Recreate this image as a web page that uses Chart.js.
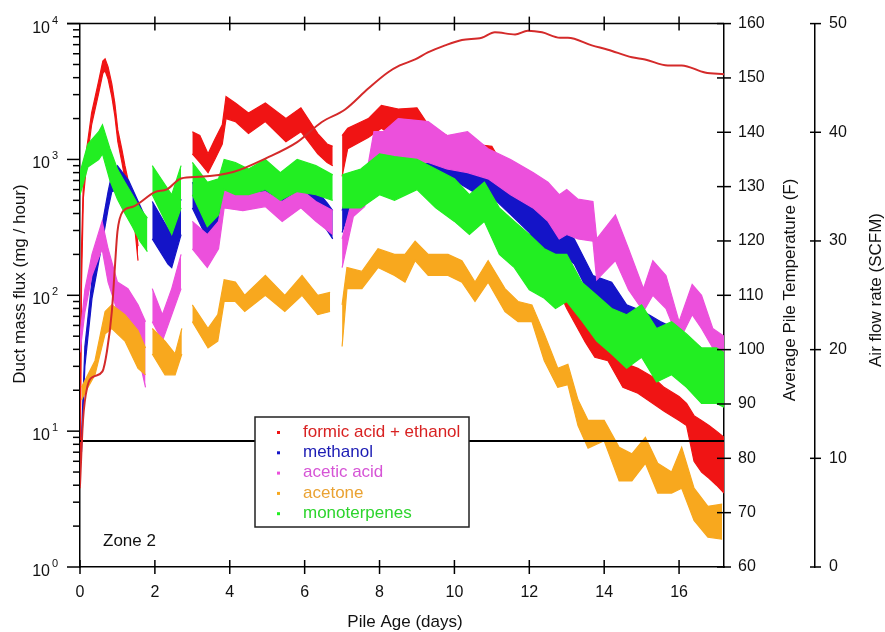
<!DOCTYPE html>
<html>
<head>
<meta charset="utf-8">
<script src="https://cdn.jsdelivr.net/npm/chart.js@4.4.1/dist/chart.umd.min.js"></script>
<style>
  html, body { margin: 0; padding: 0; background: #fff; }
  #wrap { width: 885px; height: 632px; }
</style>
</head>
<body>
<div id="wrap"><canvas id="zone2"></canvas></div>
<script>
// --- data (pile age in days, flux in mg/hour) ---
// each species: sample days with the low / high edge of its scatter band (null = no data)
const formicDays = [0, 0.04, 0.09, 0.18, 0.31, 0.49, 0.61, 0.67, 0.75, 0.85, 0.93, 1.01, 1.12, 1.2, 1.34, 1.47, 1.55, 1.6, 3.0, 3.2, 3.42, 3.6, 3.8, 3.9, 4.15, 4.5, 4.95, 5.5, 5.9, 6.35, 6.6, 6.75, 6.85, 7.0, 7.15, 7.7, 8.05, 8.5, 9.0, 9.3, 9.8, 10.1, 10.5, 11.0, 11.35, 12.0, 12.5, 13.0, 13.5, 13.75, 14.1, 14.5, 14.9, 15.3, 15.6, 16.0, 16.2, 16.4, 16.6, 16.8, 17.0, 17.2];
const formicLo = [3.8, 120, 520, 950, 1800, 3000, 4300, 4500, 3900, 2900, 2100, 1350, 950, 720, 480, 300, 180, null, 1100, 950, 800, 1000, 1300, 2000, 1900, 1550, 1900, 1350, 1600, 1100, 950, 900, null, 750, 1200, 1450, 1700, 1400, 1600, 1300, 1100, 1100, 900, 900, 600, 550, 160, 80, 45, 35, 33, 21, 19, 16, 14, 12, 11, 6, 5, 4.5, 4, 3.5];
const formicHi = [5, 220, 700, 1200, 2200, 3700, 5300, 5500, 4800, 3600, 2600, 1650, 1180, 900, 600, 380, 230, null, 1600, 1500, 1100, 1400, 1800, 2900, 2600, 2200, 2600, 2000, 2400, 1550, 1300, 1250, null, 1500, 1700, 2000, 2500, 2350, 2400, 1800, 1500, 1500, 1300, 1250, 850, 750, 260, 150, 80, 55, 50, 32, 29, 25, 21, 18, 16, 13, 12, 11, 10, 9];

const methanolDays = [0.04, 0.13, 0.32, 0.59, 0.75, 0.85, 1.0, 1.3, 1.7, 1.8, 1.93, 2.35, 2.45, 2.7, 2.78, 3.0, 3.4, 3.7, 3.85, 4.2, 4.5, 5.0, 5.5, 5.9, 6.3, 6.6, 6.75, 6.85, 7.0, 7.3, 7.7, 8.0, 8.4, 9.0, 9.3, 10.0, 10.5, 11.1, 11.6, 12.0, 12.4, 12.8, 13.0, 13.2, 13.7, 14.2, 14.6, 15.05, 15.5, 15.9, 16.35, 16.8, 17.2];
const methanolLo = [7, 30, 95, 240, 430, 580, 600, 480, 250, null, 260, 170, 160, 280, null, 440, 260, 290, 510, 500, 520, 500, 430, 500, 400, 300, 260, null, 290, 510, 600, 720, 800, 900, 850, 700, 580, 500, 370, 290, 200, 180, 190, 170, 90, 72, 57, 52, 46, 41, 33, 23, 16];
const methanolHi = [9, 42, 130, 330, 580, 780, 900, 700, 400, null, 490, 310, 300, 510, null, 680, 440, 480, 720, 700, 720, 700, 650, 720, 600, 480, 420, null, 420, 800, 850, 1200, 1300, 1350, 1250, 1070, 900, 850, 580, 490, 370, 310, 290, 260, 140, 125, 85, 76, 64, 57, 46, 37, 26];

const aceticDays = [0, 0.13, 0.32, 0.59, 0.75, 1.0, 1.28, 1.55, 1.75, 1.82, 1.93, 2.2, 2.45, 2.7, 2.78, 3.0, 3.4, 3.7, 3.85, 4.35, 4.95, 5.4, 5.9, 6.3, 6.75, 6.85, 7.0, 7.3, 7.6, 7.85, 8.1, 8.5, 9.3, 9.8, 10.35, 10.9, 11.5, 12.1, 12.5, 12.8, 13.0, 13.3, 13.7, 13.8, 14.3, 14.65, 15.05, 15.3, 15.65, 16.0, 16.35, 16.6, 16.9, 17.2];
const aceticLo = [38, 75, 140, 220, 125, 76, 64, 37, 21, null, 64, 46, 72, 112, null, 220, 160, 220, 440, 420, 450, 350, 440, 350, 280, null, 160, 380, 450, 700, 800, 950, 950, 850, 800, 720, 550, 440, 350, 260, 280, 260, 250, 130, 180, 110, 76, 100, 80, 46, 72, 57, 41, 35];
const aceticHi = [50, 110, 200, 350, 220, 125, 112, 85, 64, null, 112, 72, 112, 200, null, 350, 280, 350, 600, 550, 580, 490, 600, 490, 420, null, 260, 550, 650, 1600, 1600, 2000, 1900, 1500, 1600, 1200, 1000, 800, 680, 550, 600, 510, 490, 260, 390, 220, 112, 180, 140, 64, 120, 100, 57, 50];

const acetoneDays = [0.04, 0.21, 0.4, 0.67, 0.85, 1.2, 1.55, 1.75, 1.82, 1.93, 2.27, 2.54, 2.72, 2.78, 3.0, 3.42, 3.68, 3.85, 4.15, 4.4, 4.95, 5.47, 5.93, 6.35, 6.68, 6.85, 7.0, 7.13, 7.53, 7.96, 8.4, 8.68, 8.95, 9.3, 9.83, 10.2, 10.55, 10.9, 11.35, 11.7, 12.07, 12.4, 12.76, 13.03, 13.3, 13.57, 14.0, 14.4, 14.74, 15.1, 15.43, 15.8, 16.07, 16.4, 16.77, 17.15];
const acetoneLo = [17, 21, 26, 52, 57, 46, 29, 26, null, 37, 26, 26, 37, null, 64, 41, 46, 90, 90, 76, 100, 76, 100, 72, 76, null, 42, 112, 112, 160, 140, 125, 180, 140, 140, 125, 90, 125, 76, 64, 64, 33, 21, 22, 11, 7.5, 8.5, 4.3, 4.3, 5.8, 3.5, 3.5, 3.8, 2.2, 1.66, 1.6];
const acetoneHi = [21, 26, 33, 76, 85, 72, 55, 41, null, 57, 46, 37, 57, null, 85, 57, 72, 130, 125, 100, 140, 100, 140, 100, 105, null, 85, 160, 150, 220, 200, 200, 250, 200, 200, 180, 125, 180, 112, 90, 85, 52, 29, 31, 17, 12, 12, 7.6, 6.8, 9, 5.8, 5, 7.6, 3.8, 2.8, 2.9];

const terpDays = [0, 0.21, 0.5, 0.6, 0.8, 1.0, 1.2, 1.4, 1.6, 1.8, 1.85, 1.93, 2.45, 2.7, 2.78, 3.0, 3.4, 3.7, 3.85, 4.15, 4.5, 4.95, 5.35, 5.8, 6.3, 6.75, 6.85, 7.0, 7.5, 8.0, 8.4, 9.0, 9.5, 10.0, 10.4, 10.8, 11.2, 11.6, 12.0, 12.4, 12.7, 13.0, 13.4, 13.8, 14.2, 14.6, 15.0, 15.4, 15.8, 16.2, 16.6, 17.0, 17.2];
const terpLo = [550, 880, 1000, 1100, 700, 510, 400, 320, 250, 210, null, 550, 280, 440, null, 550, 320, 390, 600, 550, 550, 600, 500, 580, 550, 500, null, 440, 440, 550, 500, 600, 440, 350, 280, 350, 200, 160, 110, 95, 80, 90, 65, 46, 37, 29, 35, 23, 26, 21, 16, 16, 15];
const terpHi = [800, 1300, 1600, 1800, 1200, 850, 680, 550, 440, 370, null, 900, 550, 900, null, 950, 680, 720, 1000, 950, 850, 1000, 800, 1000, 900, 770, null, 770, 850, 1100, 1050, 1000, 850, 720, 550, 680, 440, 350, 280, 220, 200, 200, 125, 100, 80, 72, 85, 57, 64, 52, 41, 41, 38];

// average pile temperature (F)
const tempDays = [0, 0.08, 0.2, 0.35, 0.6, 0.72, 0.85, 0.93, 1.0, 1.14, 1.41, 2.0, 2.32, 2.7, 3.2, 4.09, 4.99, 5.8, 6.46, 7.08, 7.69, 8.22, 8.54, 8.95, 9.29, 9.75, 10.2, 10.73, 11.08, 11.62, 11.96, 12.34, 12.82, 13.03, 13.67, 14.1, 14.74, 15.09, 15.7, 16.07, 16.69, 17.2];
const tempF = [75, 87, 93.3, 95, 96, 99.7, 107, 115, 121.7, 125.4, 126.3, 129, 129.5, 131.5, 131.8, 132.7, 135.3, 138.2, 141.9, 144.2, 148, 151, 152.3, 153.4, 154.7, 156, 157, 157.4, 158.4, 158, 158.7, 158.4, 157.4, 157.4, 156, 155.2, 153.8, 153.4, 152.3, 152.3, 151.0, 150.7];

// air flow rate (SCFM)
const airDays = [0, 17.2];
const airSCFM = [11.6, 11.6];

const xTicks = [0, 2, 4, 6, 8, 10, 12, 14, 16];
const decades = [1, 10, 100, 1000, 10000];

const FONT = '"Liberation Sans", Arial, Helvetica, sans-serif';

const species = [
  { name: "formic acid + ethanol", color: "#f01414", text: "#d82222", days: formicDays, lo: formicLo, hi: formicHi },
  { name: "methanol", color: "#1414c8", text: "#1c1cb4", days: methanolDays, lo: methanolLo, hi: methanolHi },
  { name: "acetic acid", color: "#ec50dc", text: "#d654d6", days: aceticDays, lo: aceticLo, hi: aceticHi },
  { name: "acetone", color: "#f8a81e", text: "#eaa232", days: acetoneDays, lo: acetoneLo, hi: acetoneHi },
  { name: "monoterpenes", color: "#22ee22", text: "#2cd42c", days: terpDays, lo: terpLo, hi: terpHi }
];

function pts(xs, ys) {
  return xs.map((x, i) => ({ x: x, y: ys[i] }));
}

// low edge + high edge filled between them gives the dense scatter band
let datasets = [];
species.forEach((s, i) => {
  const ord = 5 - i;   // formic at the bottom, monoterpenes on top
  datasets.push({
    label: s.name + " low", data: pts(s.days, s.lo), yAxisID: "y",
    borderColor: s.color, borderWidth: 1.2, pointRadius: 0, fill: false, order: ord, spanGaps: false
  });
  datasets.push({
    label: s.name, data: pts(s.days, s.hi), yAxisID: "y",
    borderColor: s.color, borderWidth: 1.2, backgroundColor: s.color, pointRadius: 0, fill: "-1", order: ord, spanGaps: false
  });
});
datasets.push({
  label: "Average Pile Temperature", data: pts(tempDays, tempF), yAxisID: "yT",
  borderColor: "#d42a2a", borderWidth: 2, pointRadius: 0, fill: false, order: 0, cubicInterpolationMode: "monotone"
});
datasets.push({
  label: "Air flow rate", data: pts(airDays, airSCFM), yAxisID: "yA",
  borderColor: "#000", borderWidth: 2, pointRadius: 0, fill: false, order: 0
});

function line(ctx, x1, y1, x2, y2) {
  ctx.beginPath(); ctx.moveTo(x1, y1); ctx.lineTo(x2, y2); ctx.stroke();
}

// tick marks, log labels, axis titles, legend box, "Zone 2"
const decor = {
  id: "decor",
  afterDraw(chart) {
    const { ctx, chartArea: a, scales } = chart;
    ctx.save();
    ctx.strokeStyle = "#000";
    ctx.lineWidth = 1.5;
    line(ctx, a.left - 13, a.top, a.right, a.top);

    xTicks.forEach(d => {
      const px = scales.x.getPixelForValue(d);
      line(ctx, px, a.bottom - 7, px, a.bottom + 7);
      if (d > 0) line(ctx, px, a.top - 7, px, a.top + 7);
    });

    // left log axis
    ctx.fillStyle = "#111";
    decades.forEach((v, k) => {
      const py = scales.y.getPixelForValue(v);
      line(ctx, a.left - 13, py, a.left, py);
      ctx.font = "16px " + FONT;
      ctx.textAlign = "right"; ctx.textBaseline = "alphabetic";
      ctx.fillText("10", 50, py + 9);
      ctx.font = "11px " + FONT;
      ctx.textAlign = "left";
      ctx.fillText(String(k), 52, py);
      if (v < 10000) {
        for (let m = 2; m <= 9; m++) {
          const my = scales.y.getPixelForValue(v * m);
          line(ctx, a.left - 7, my, a.left, my);
        }
      }
    });

    // right axes crossing ticks
    scales.yT.ticks.forEach(t => {
      const py = scales.yT.getPixelForValue(t.value);
      line(ctx, scales.yT.left - 7, py, scales.yT.left + 7, py);
    });
    scales.yA.ticks.forEach(t => {
      const py = scales.yA.getPixelForValue(t.value);
      line(ctx, scales.yA.left - 5, py, scales.yA.left + 6, py);
    });

    // axis titles
    ctx.fillStyle = "#111";
    ctx.font = "17px " + FONT;
    ctx.textAlign = "center"; ctx.textBaseline = "middle";
    ctx.fillText("Pile Age (days)", (a.left + a.right) / 2 + 3, 622);
    const vtitle = (txt, x, y) => {
      ctx.save(); ctx.translate(x, y); ctx.rotate(-Math.PI / 2);
      ctx.fillText(txt, 0, 0); ctx.restore();
    };
    vtitle("Duct mass flux (mg / hour)", 20, 284);
    vtitle("Average Pile Temperature (F)", 790, 290);
    vtitle("Air flow rate (SCFM)", 876, 290);

    ctx.textAlign = "left"; ctx.textBaseline = "alphabetic";
    ctx.fillText("Zone 2", 103, 546);

    // legend
    ctx.fillStyle = "#fff";
    ctx.fillRect(255, 417, 214, 110);
    ctx.strokeStyle = "#222";
    ctx.strokeRect(255, 417, 214, 110);
    ctx.textBaseline = "middle";
    species.forEach((s, i) => {
      const ly = 432 + i * 20.3;
      ctx.fillStyle = s.color;
      ctx.fillRect(277, ly - 1, 3, 3);
      ctx.fillStyle = s.text;
      ctx.fillText(s.name, 303, ly);
    });
    ctx.restore();
  }
};

const axisBorder = { color: "#000", width: 1.5 };
const noGrid = { drawOnChartArea: false, drawTicks: false };
const tickFont = { family: FONT, size: 16 };

window.addEventListener("load", function() {
  let ctx = document.getElementById("zone2").getContext("2d");
  new Chart(ctx, {
    type: "line",
    data: { datasets: datasets },
    options: {
      responsive: true,
      maintainAspectRatio: false,
      animation: false,
      devicePixelRatio: 1,
      events: [],
      layout: { padding: { top: 21, left: 0, right: 0, bottom: 0 } },
      plugins: { legend: { display: false }, tooltip: { enabled: false } },
      scales: {
        x: {
          type: "linear", position: "bottom", min: 0, max: 17.2,
          afterFit: s => { s.height = 65; },
          border: axisBorder, grid: noGrid,
          ticks: { stepSize: 2, includeBounds: false, padding: 16, color: "#111", font: tickFont, maxRotation: 0 }
        },
        y: {
          type: "logarithmic", position: "left", min: 1, max: 10000,
          afterFit: s => { s.width = 80; },
          border: axisBorder, grid: noGrid,
          ticks: { display: false }
        },
        yT: {
          type: "linear", position: "right", min: 60, max: 160, weight: 0,
          afterFit: s => { s.width = 91; },
          border: axisBorder, grid: noGrid,
          ticks: { stepSize: 10, padding: 14, color: "#111", font: tickFont }
        },
        yA: {
          type: "linear", position: "right", min: 0, max: 50, weight: 1,
          afterFit: s => { s.width = 70; },
          border: axisBorder, grid: noGrid,
          ticks: { stepSize: 10, padding: 14, color: "#111", font: tickFont }
        }
      }
    },
    plugins: [decor]
  });
}, false);
</script>
</body>
</html>
